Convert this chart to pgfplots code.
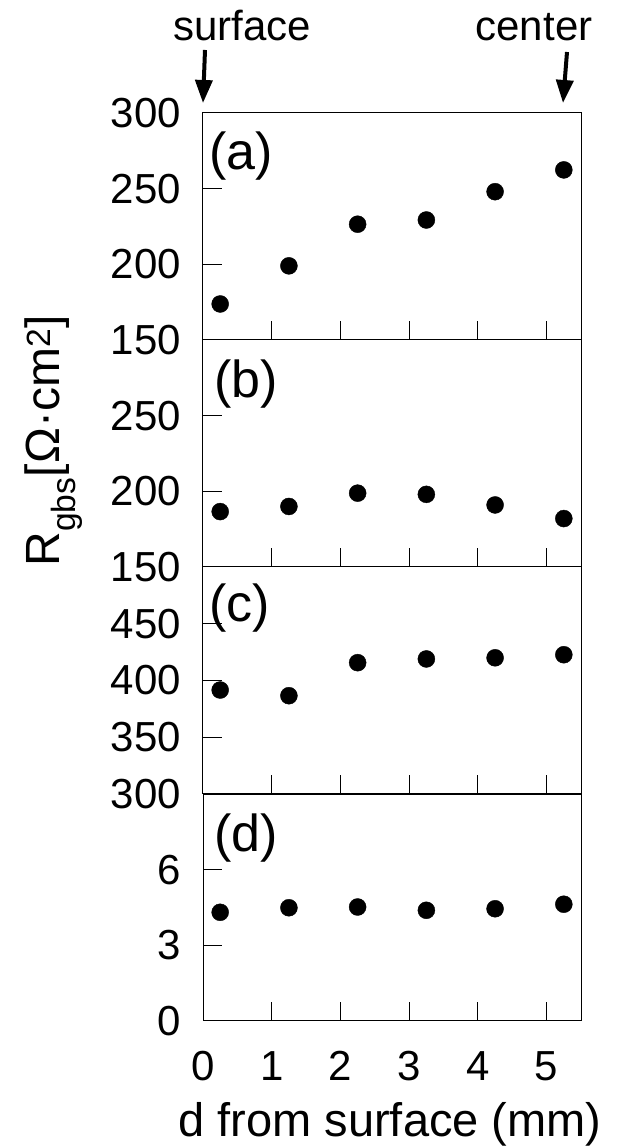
\documentclass[border=0pt]{standalone}
\usepackage{fontspec}
\setmainfont{Liberation Sans}
\usepackage{pgfplots}
\pgfplotsset{compat=1.18}
\usetikzlibrary{arrows.meta}

\pgfplotsset{
  panel/.style={
    scale only axis, width=378pt, height=227pt,
    anchor=south west, clip=false,
    xmin=0, xmax=5.5, xtick={0,...,5},
    axis line style={line width=1pt},
    every tick/.style={line width=1pt, black},
    major tick length=19pt,
    tick align=inside, xtick pos=left, ytick pos=left,
    ticklabel style={font=\fontsize{42}{50}\selectfont, inner sep=0pt},
    /pgf/number format/assume math mode=true,
    yticklabel style={anchor=east, xshift=-22pt},
    xticklabel style={anchor=base, yshift=-59pt},
  },
  nox/.style={xticklabels={}},
  dots/.style={only marks, mark=*, mark size=8.5pt, black},
}

\begin{document}
\begin{tikzpicture}[x=1pt, y=1pt]
\path[use as bounding box] (-203pt,-126pt) rectangle (413pt,1021pt);

% (a)
\begin{axis}[panel, nox, at={(0pt,681pt)}, ymin=150, ymax=300, ytick={150,200,250,300}]
\addplot[dots] coordinates {(0.25,173.8) (1.25,199) (2.25,226.5) (3.25,229.3) (4.25,248) (5.25,262.4)};
\end{axis}

% (b)
\begin{axis}[panel, nox, at={(0pt,454pt)}, ymin=150, ymax=300, ytick={150,200,250}]
\addplot[dots] coordinates {(0.25,186.6) (1.25,190) (2.25,198.8) (3.25,198) (4.25,191) (5.25,182)};
\end{axis}

% (c)
\begin{axis}[panel, nox, at={(0pt,227pt)}, ymin=300, ymax=500, ytick={300,350,400,450}]
\addplot[dots] coordinates {(0.25,391.6) (1.25,386.6) (2.25,415.7) (3.25,419) (4.25,420) (5.25,422.7)};
\end{axis}

% (d)
\begin{axis}[panel, at={(0pt,0pt)}, ymin=0, ymax=9, ytick={0,3,6}]
\addplot[dots] coordinates {(0.25,4.31) (1.25,4.49) (2.25,4.52) (3.25,4.39) (4.25,4.45) (5.25,4.63)};
\end{axis}

\begin{scope}[every node/.style={inner sep=0pt, font=\fontsize{52}{62}\selectfont}]
\node[anchor=base west] at (6pt,851pt) {(a)};
\node[anchor=base west] at (11pt,623pt) {(b)};
\node[anchor=base west] at (6pt,399pt) {(c)};
\node[anchor=base west] at (11pt,169pt) {(d)};
\end{scope}

\node[anchor=base, inner sep=0pt, font=\fontsize{42}{50}\selectfont] at (39pt,980pt) {surface};
\node[anchor=base, inner sep=0pt, font=\fontsize{42}{50}\selectfont] at (331pt,980pt) {center};
\draw[line width=4pt, -{Triangle[width=17pt,length=23pt]}] (2pt,971pt) -- (0pt,918pt);
\draw[line width=4pt, -{Triangle[width=17pt,length=23pt]}] (364pt,969pt) -- (360pt,918pt);

\node[anchor=base, rotate=90, inner sep=0pt, font=\fontsize{48}{58}\selectfont] at (-143pt,580pt) {R\textsubscript{gbs}[Ω·cm\textsuperscript{2}]};
\node[anchor=base, inner sep=0pt, font=\fontsize{47}{56}\selectfont] at (187pt,-115pt) {d from surface (mm)};
\end{tikzpicture}
\end{document}
